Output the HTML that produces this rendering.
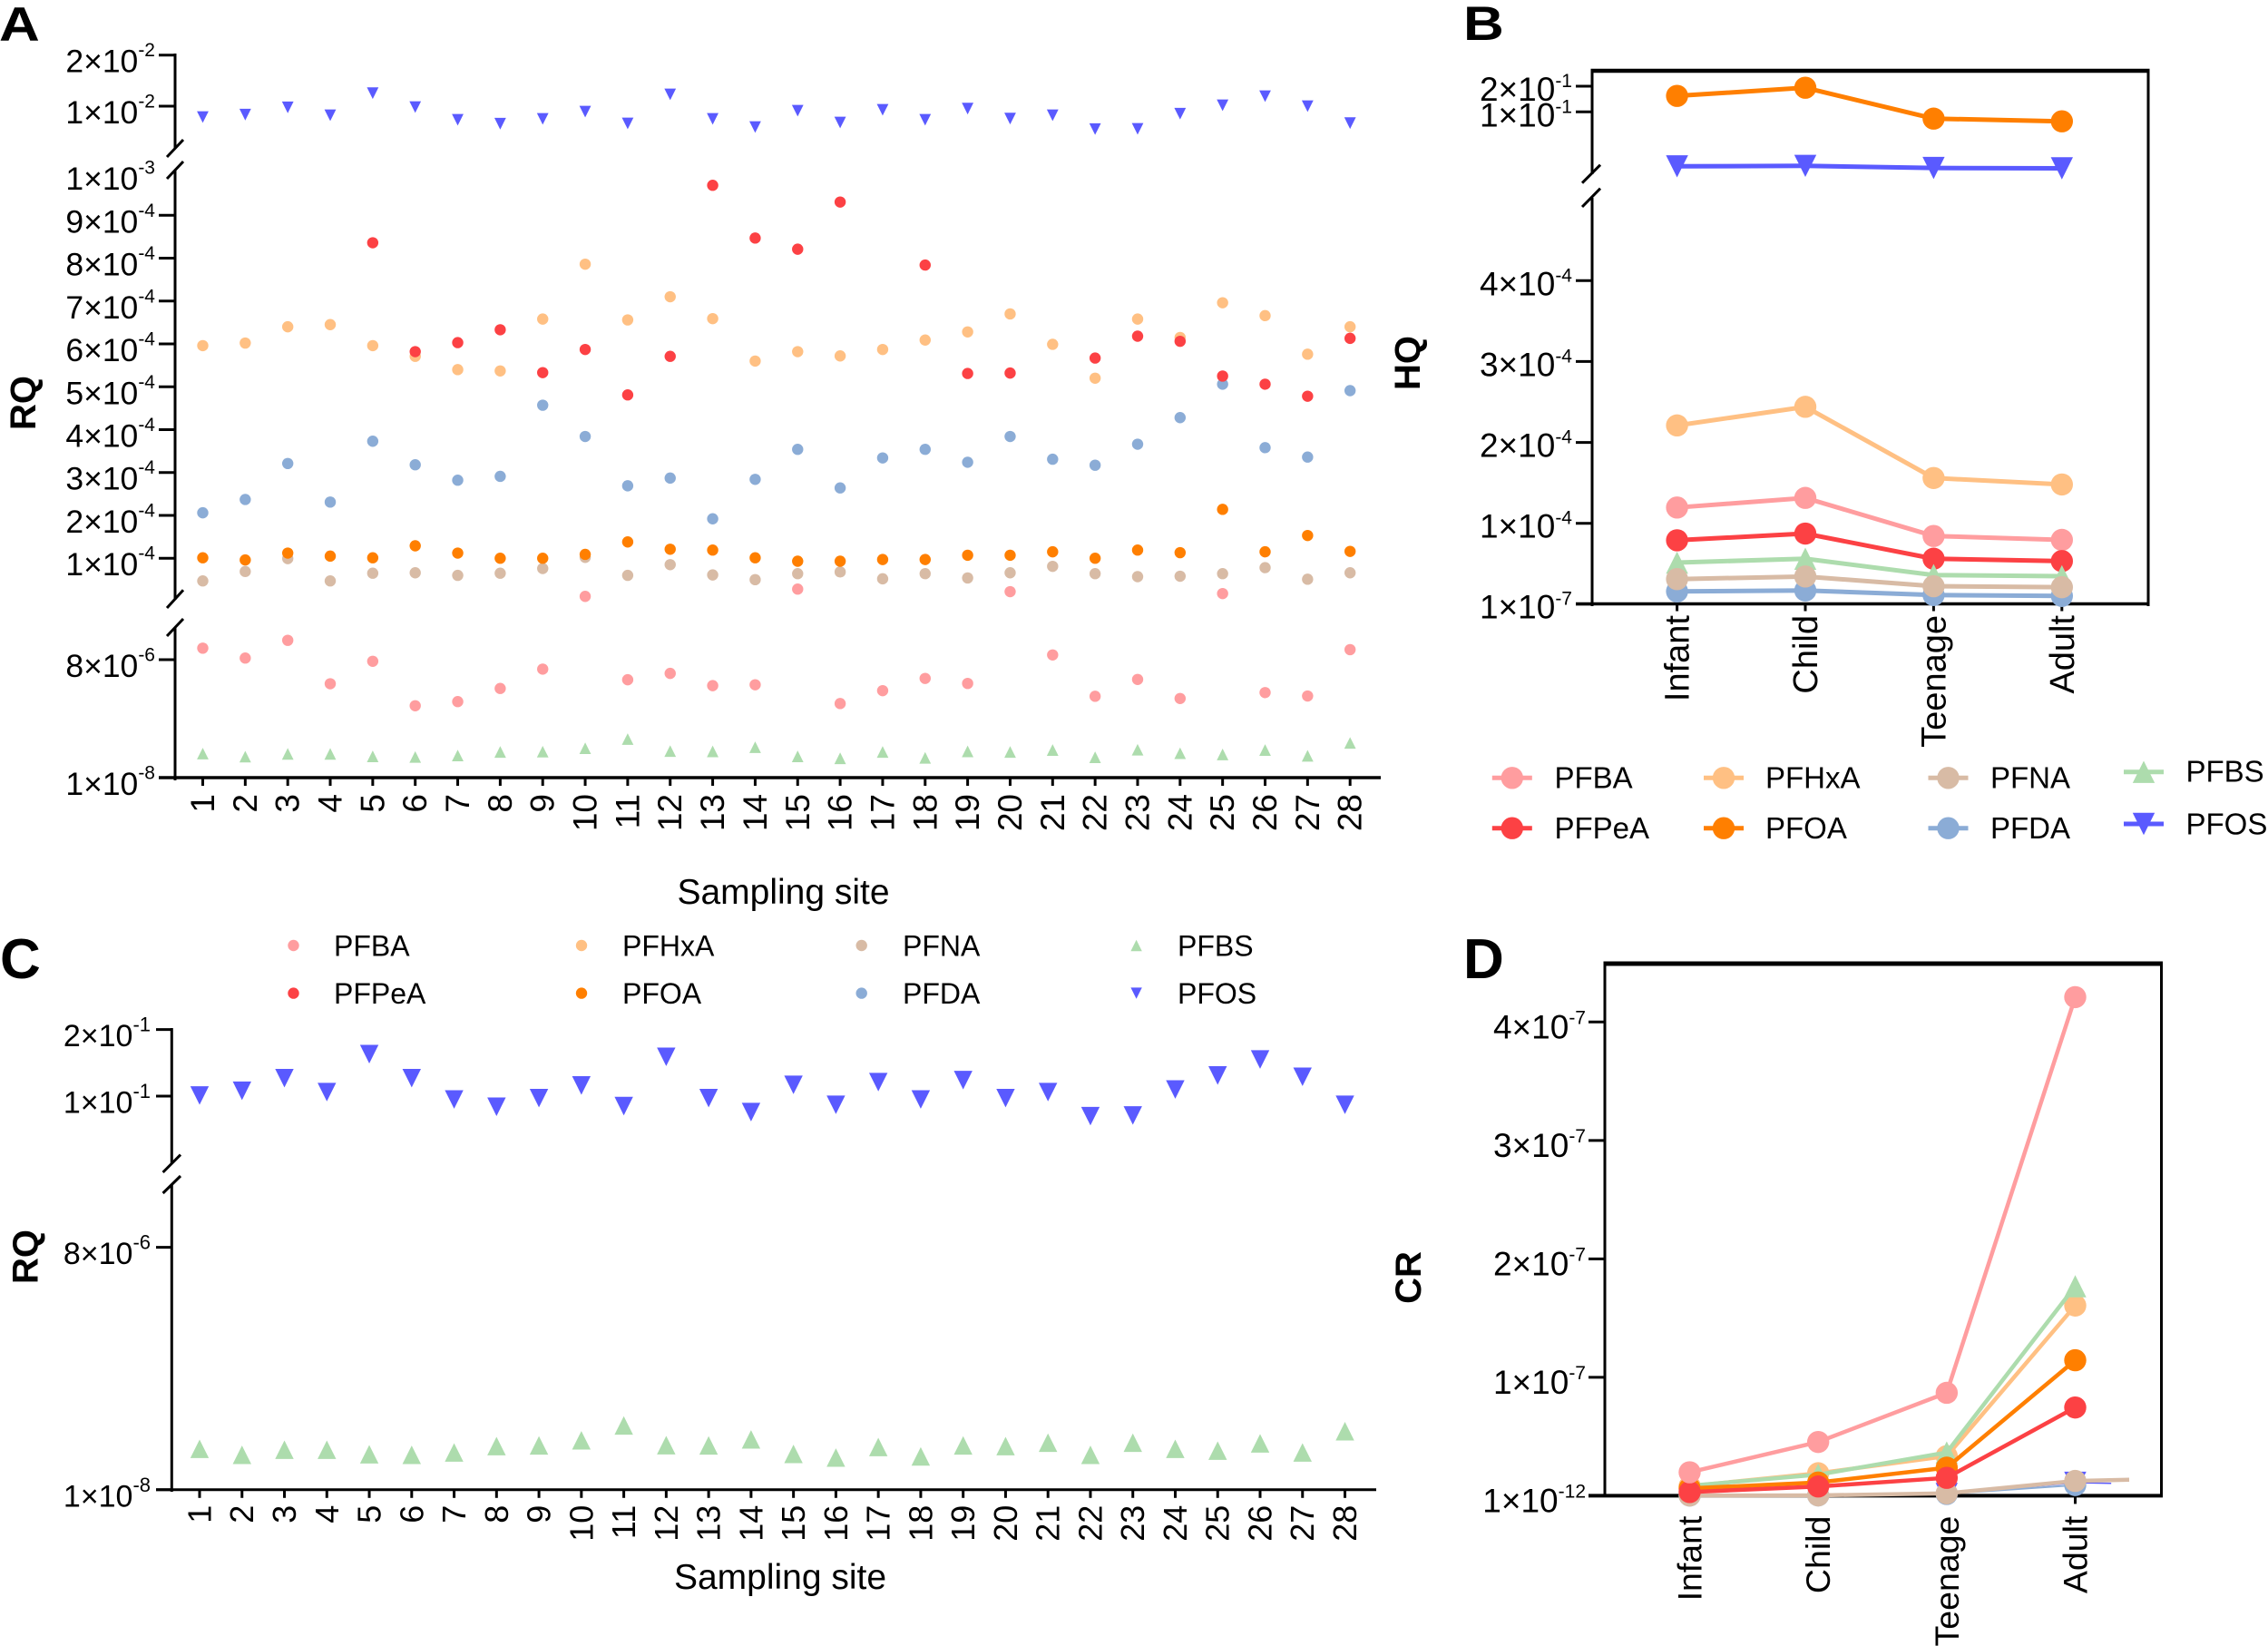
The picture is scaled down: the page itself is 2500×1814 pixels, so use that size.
<!DOCTYPE html>
<html lang="en">
<head>
<meta charset="utf-8">
<title>PFAS risk quotient charts</title>
<style>
html,body{margin:0;padding:0;background:#fff;}
svg{display:block;font-family:"Liberation Sans",Arial,sans-serif;}
</style>
</head>
<body>
<svg id="fig" xmlns="http://www.w3.org/2000/svg" width="2500" height="1814" viewBox="0 0 2500 1814">
  <rect x="0" y="0" width="2500" height="1814" fill="#ffffff"/>
  <g id="panelA"></g>
  <g id="panelB"></g>
  <g id="panelC"></g>
  <g id="panelD"></g>
</svg>
<script>
// ---------- shared categories ----------
const sites = [1,2,3,4,5,6,7,8,9,10,11,12,13,14,15,16,17,18,19,20,21,22,23,24,25,26,27,28];
const ageGroups = ["Infant","Child","Teenage","Adult"];

// ---------- panel A: RQ by sampling site (null = not visible) ----------
const rqPFOS_e2 = [0.787,0.835,0.977,0.822,1.254,0.982,0.734,0.657,0.751,0.893,0.663,1.231,0.751,0.591,0.911,0.680,0.929,0.734,0.952,0.757,0.822,0.551,0.556,0.853,1.018,1.195,1.0,0.668];
const rqPFBS_e6 = [1.64,1.43,1.62,1.62,1.45,1.41,1.51,1.75,1.77,2.0,2.62,1.81,1.79,2.07,1.45,1.32,1.75,1.35,1.79,1.75,1.88,1.39,1.90,1.66,1.58,1.88,1.49,2.36];
const rqPFDA_e4 = [2.06,2.37,3.21,2.31,3.73,3.18,2.82,2.91,4.57,3.84,2.69,2.87,1.92,2.84,3.54,2.64,3.34,3.54,3.24,3.84,3.31,3.17,3.66,4.28,5.06,3.58,3.36,4.91];
const rqPFNA_e4 = [0.47,0.69,0.99,0.47,0.65,0.66,0.60,0.65,0.76,1.02,0.60,0.85,0.61,0.50,0.64,0.68,0.52,0.64,0.54,0.66,0.81,0.64,0.57,0.58,0.64,0.78,0.51,0.66];
const rqPFBA_e6 = [8.78,8.11,9.31,6.37,7.89,4.88,5.16,6.05,7.36,11,6.64,7.07,6.24,6.30,28,5.03,5.90,6.73,6.39,22,8.32,5.52,6.66,5.37,17.5,5.77,5.54,8.68];
const rqPFHxA_e4 = [5.96,6.02,6.40,6.45,5.96,5.71,5.40,5.37,6.58,7.86,6.56,7.10,6.59,5.60,5.82,5.72,5.87,6.09,6.28,6.70,5.99,5.20,6.58,6.15,6.96,6.66,5.76,6.40];
const rqPFOA_e4 = [1.01,0.96,1.12,1.05,1.01,1.29,1.12,1.0,1.0,1.09,1.38,1.21,1.19,1.01,0.93,0.93,0.97,0.97,1.07,1.07,1.15,1.0,1.19,1.13,2.14,1.15,1.53,1.16];
const rqPFPeA_e4 = [null,null,null,null,8.36,5.82,6.03,6.33,5.33,5.87,4.81,5.71,9.70,8.47,8.21,9.31,null,7.84,5.31,5.32,null,5.67,6.18,6.06,5.25,5.06,4.78,6.13];
const aTickValues = [2e-2,1e-2,1e-3,9e-4,8e-4,7e-4,6e-4,5e-4,4e-4,3e-4,2e-4,1e-4,8e-6,1e-8];
const aTickLabels = ["2×10^-2","1×10^-2","1×10^-3","9×10^-4","8×10^-4","7×10^-4","6×10^-4","5×10^-4","4×10^-4","3×10^-4","2×10^-4","1×10^-4","8×10^-6","1×10^-8"];

// ---------- panel B: HQ by age group ----------
const hqPFOS = [0.0230,0.0233,0.0220,0.0218];
const hqPFOA = [0.154,0.192,0.0834,0.0775];
const hqPFHxA = [2.21e-4,2.44e-4,1.56e-4,1.48e-4];
const hqPFBA = [1.195e-4,1.314e-4,0.843e-4,0.795e-4];
const hqPFPeA = [0.79e-4,0.873e-4,0.562e-4,0.533e-4];
const hqPFDA = [0.158e-4,0.169e-4,0.113e-4,0.102e-4];
const hqPFBS = [0.514e-4,0.562e-4,0.36e-4,0.346e-4];
const hqPFNA = [0.31e-4,0.342e-4,0.222e-4,0.21e-4];
const bTickValues = [2e-1,1e-1,4e-4,3e-4,2e-4,1e-4,1e-7];
const bTickLabels = ["2×10^-1","1×10^-1","4×10^-4","3×10^-4","2×10^-4","1×10^-4","1×10^-7"];

// ---------- panel C: RQ by sampling site ----------
const rqcPFOS = [1.01,1.08,1.27,1.06,1.63,1.27,0.95,0.84,0.97,1.16,0.85,1.59,0.97,0.76,1.17,0.87,1.21,0.95,1.24,0.97,1.06,0.70,0.71,1.10,1.31,1.55,1.29,0.87];
const rqcPFBS = [1.36,1.16,1.33,1.33,1.18,1.16,1.24,1.45,1.47,1.64,2.13,1.48,1.47,1.67,1.19,1.07,1.42,1.11,1.47,1.45,1.56,1.16,1.56,1.36,1.30,1.54,1.24,1.94];
const cTickValues = [2e-1,1e-1,8e-6,1e-8];
const cTickLabels = ["2×10^-1","1×10^-1","8×10^-6","1×10^-8"];

// ---------- panel D: CR by age group (units of 1e-7) ----------
const crPFOS = [0.002,0.003,0.015,0.11];
const crPFDA = [0.002,0.003,0.015,0.09];
const crPFNA = [0.002,0.003,0.02,0.125];
const crPFHxA = [0.081,0.19,0.334,1.606];
const crPFBS = [0.085,0.178,0.365,1.769];
const crPFOA = [0.062,0.112,0.237,1.144];
const crPFPeA = [0.031,0.078,0.151,0.745];
const crPFBA = [0.198,0.454,0.869,4.21];
const crTailCategory = [3.28,3.42];
const crTailValue = [0.105,0.135];
const dTickValues = [4e-7,3e-7,2e-7,1e-7,1e-12];
const dTickLabels = ["4×10^-7","3×10^-7","2×10^-7","1×10^-7","1×10^-12"];

// ---------- styling ----------
const colors = {PFBA:"#FF9D9F",PFPeA:"#FC4144",PFHxA:"#FFC083",PFOA:"#FF7F00",PFNA:"#D8BBA5",PFDA:"#8BACD6",PFBS:"#ADDCAD",PFOS:"#5A5AFF"};
const shapes = {PFBS:"up",PFOS:"down"};
const NS = "http://www.w3.org/2000/svg";

function el(tag, attrs, parent){
  const n = document.createElementNS(NS, tag);
  for(const k in attrs){ n.setAttribute(k, attrs[k]); }
  parent.appendChild(n);
  return n;
}
function linearSeg(v1,p1,v2,p2,minV){
  return {minV:minV, f:function(v){return p1+(v-v1)*(p2-p1)/(v2-v1);}};
}
function logSeg(v1,p1,v2,p2,minV){
  return {minV:minV, f:function(v){return p1+(Math.log10(v)-Math.log10(v1))*(p2-p1)/(Math.log10(v2)-Math.log10(v1));}};
}
function brokenScale(segs){
  return function(v){
    for(const s of segs){ if(v>=s.minV){ return s.f(v); } }
    return segs[segs.length-1].f(v);
  };
}
function line(parent,x1,y1,x2,y2,w,name){
  const l = el("line",{x1:x1,y1:y1,x2:x2,y2:y2,stroke:"#000","stroke-width":w},parent);
  
  
  return l;
}
function marker(parent,key,cx,cy,r){
  const shape = shapes[key];
  let m;
  if(shape==="up"){
    m = el("polygon",{points:(cx-r)+","+(cy+r)+" "+(cx+r)+","+(cy+r)+" "+cx+","+(cy-r),fill:colors[key]},parent);
  }else if(shape==="down"){
    m = el("polygon",{points:(cx-r)+","+(cy-r)+" "+(cx+r)+","+(cy-r)+" "+cx+","+(cy+r),fill:colors[key]},parent);
  }else{
    m = el("circle",{cx:cx,cy:cy,r:r,fill:colors[key]},parent);
  }
  
  
  return m;
}
function yTicks(parent,vals,labels,y,o){
  vals.forEach(function(v,i){
    const py = y(v);
    if(!(o.noMark && o.noMark.indexOf(v)>=0)){
      line(parent,o.x0,py,o.x1,py,3,'y-axis-tick');
    }
    const parts = labels[i].split("^");
    const t = el("text",{x:o.right,y:py+o.base,"text-anchor":"end",fill:"#000"},parent);
    
    
    const a = el("tspan",{"font-size":o.fs},t);
    a.textContent = parts[0];
    const b = el("tspan",{"font-size":o.sfs,dy:o.supDy},t);
    b.textContent = parts[1];
  });
}
function xTickLabels(parent,names,x,o){
  names.forEach(function(nm,i){
    const px = x(i);
    line(parent,px,o.axisY,px,o.axisY+o.len,3,'x-axis-tick');
    const bx = px+o.off, by = o.top;
    const t = el("text",{x:bx,y:by,"text-anchor":"end","font-size":o.fs,fill:"#000",transform:"rotate(-90 "+bx+" "+by+")"},parent);
    
    
    t.textContent = nm;
  });
}
function rotated(parent,str,x,y,fs,name){
  const t = el("text",{x:x,y:y,"text-anchor":"middle","font-size":fs,"font-weight":"bold",fill:"#000",transform:"rotate(-90 "+x+" "+y+")"},parent);
  
  
  t.textContent = str;
}
function plainText(parent,str,x,y,fs,anchor,name){
  const t = el("text",{x:x,y:y,"text-anchor":anchor,"font-size":fs,fill:"#000"},parent);
  
  
  t.textContent = str;
}
function panelLetter(parent,str,x,y,sy){
  const t = el("text",{x:0,y:0,"font-size":62,"font-weight":"bold",fill:"#000",transform:"translate("+x+" "+y+") scale(1 "+sy+")"},parent);
  
  
  t.textContent = str;
}
function scatter(parent,key,arr,unit,x,y,r){
  arr.forEach(function(v,i){
    if(v===null){ return; }
    marker(parent,key,x(i),y(v*unit),r);
  });
}
function lineSeries(parent,key,arr,unit,x,y,r,w){
  const pts = arr.map(function(v,i){ return x(i)+","+y(v*unit); }).join(" ");
  const p = el("polyline",{points:pts,fill:"none",stroke:colors[key],"stroke-width":w,"stroke-linejoin":"round"},parent);
  
  
  arr.forEach(function(v,i){ marker(parent,key,x(i),y(v*unit),r); });
}
function legendEntry(parent,key,mx,my,tx,ty,fs,r,lineHalf){
  if(lineHalf){
    const l = el("line",{x1:mx-lineHalf,y1:my,x2:mx+lineHalf,y2:my,stroke:colors[key],"stroke-width":5},parent);
    
    
  }
  marker(parent,key,mx,my,r);
  plainText(parent,key,tx,ty,fs,"start",'legend-label');
}

// ---------- Panel A ----------
(function(){
  const g = document.getElementById("panelA");
  const x = function(i){ return 223.5+46.84*i; };
  const y = brokenScale([
    linearSeg(0.01,117,0.02,60.7,2e-3),
    linearSeg(1e-4,615.2,9e-4,237.3,1.05e-5),
    linearSeg(1e-8,857,8e-6,727,-1)
  ]);
  panelLetter(g,"A",-1,45,0.85);
  line(g,193,59,193,164,3,'y-axis-upper');
  line(g,193,187,193,661,3,'y-axis-middle');
  line(g,193,691,193,860,3,'y-axis-lower');
  line(g,184,173,202,154,3,'axis-break-mark');
  line(g,184,197,202,178,3,'axis-break-mark');
  line(g,184,670,202,650.3,3,'axis-break-mark');
  line(g,184,701,202,682,3,'axis-break-mark');
  line(g,175,857,1522,857,3.5,'x-axis');
  yTicks(g,aTickValues,aTickLabels,y,{x0:175,x1:193,right:171,base:19,fs:35.5,sfs:21,supDy:-17.5,noMark:[1e-3]});
  xTickLabels(g,sites,x,{axisY:857,len:9,off:12.5,top:875,fs:37});
  rotated(g,"RQ",39,444,40,'y-axis-title');
  plainText(g,"Sampling site",863.5,996,39,"middle",'x-axis-title');
  scatter(g,"PFOS",rqPFOS_e2,1e-2,x,y,6.4);
  scatter(g,"PFBS",rqPFBS_e6,1e-6,x,y,6.4);
  scatter(g,"PFDA",rqPFDA_e4,1e-4,x,y,6.2);
  scatter(g,"PFNA",rqPFNA_e4,1e-4,x,y,6.2);
  scatter(g,"PFBA",rqPFBA_e6,1e-6,x,y,6.2);
  scatter(g,"PFHxA",rqPFHxA_e4,1e-4,x,y,6.2);
  scatter(g,"PFOA",rqPFOA_e4,1e-4,x,y,6.2);
  scatter(g,"PFPeA",rqPFPeA_e4,1e-4,x,y,6.2);
})();

// ---------- Panel B ----------
(function(){
  const g = document.getElementById("panelB");
  const x = function(i){ return 1848.6+141.4*i; };
  const y = brokenScale([
    logSeg(0.1,123.3,0.2,95,1e-3),
    linearSeg(1e-4,576.7,4e-4,309.3,-1)
  ]);
  panelLetter(g,"B",1613,44,0.85);
  line(g,1755,78,1755,192,3,'y-axis-upper');
  line(g,1755,218,1755,668,3,'y-axis-lower');
  line(g,2368,78,2368,668,3,'right-frame-line');
  line(g,1753.5,78,2369.5,78,4.5,'top-frame-line');
  line(g,1744,201.7,1764,181.7,3,'axis-break-mark');
  line(g,1744,228,1764,207.7,3,'axis-break-mark');
  line(g,1737,665.5,2369.5,665.5,3.5,'x-axis');
  yTicks(g,bTickValues,bTickLabels,y,{x0:1737,x1:1755,right:1733,base:16,fs:37,sfs:21,supDy:-15});
  xTickLabels(g,ageGroups,x,{axisY:665.5,len:8,off:13,top:678,fs:38});
  rotated(g,"HQ",1565,400,40,'y-axis-title');
  lineSeries(g,"PFOS",hqPFOS,1,x,y,12.2,5);
  lineSeries(g,"PFOA",hqPFOA,1,x,y,12.2,5);
  lineSeries(g,"PFHxA",hqPFHxA,1,x,y,12.2,5);
  lineSeries(g,"PFBA",hqPFBA,1,x,y,12.2,5);
  lineSeries(g,"PFPeA",hqPFPeA,1,x,y,12.2,5);
  lineSeries(g,"PFDA",hqPFDA,1,x,y,12.2,5);
  lineSeries(g,"PFBS",hqPFBS,1,x,y,12.2,5);
  lineSeries(g,"PFNA",hqPFNA,1,x,y,12.2,5);
  legendEntry(g,"PFBA",1666.8,857.3,1713.5,868.3,33,12.2,22);
  legendEntry(g,"PFPeA",1666.8,912.7,1713.5,924,33,12.2,22);
  legendEntry(g,"PFHxA",1900,857.3,1946,868.3,33,12.2,22);
  legendEntry(g,"PFOA",1900,912.7,1946,924,33,12.2,22);
  legendEntry(g,"PFNA",2147.5,857.3,2194,868.3,33,12.2,22);
  legendEntry(g,"PFDA",2147.5,912.7,2194,924,33,12.2,22);
  legendEntry(g,"PFBS",2363,850.7,2409.5,861.7,33,12.2,22);
  legendEntry(g,"PFOS",2363,908,2409.5,919.3,33,12.2,22);
})();

// ---------- Panel C ----------
(function(){
  const g = document.getElementById("panelC");
  const x = function(i){ return 220+46.76*i; };
  const y = brokenScale([
    linearSeg(0.1,1208,0.2,1134.6,1e-3),
    linearSeg(1e-8,1641.8,8e-6,1374.6,-1)
  ]);
  panelLetter(g,"C",0,1078,1);
  line(g,189.3,1133,189.3,1282,3,'y-axis-upper');
  line(g,189.3,1305.5,189.3,1644,3,'y-axis-lower');
  line(g,179.6,1292,199,1272.6,3,'axis-break-mark');
  line(g,179.6,1315,199,1296,3,'axis-break-mark');
  line(g,172,1641.8,1517,1641.8,3,'x-axis');
  yTicks(g,cTickValues,cTickLabels,y,{x0:172,x1:189.3,right:166,base:18.5,fs:34,sfs:22,supDy:-16.5});
  xTickLabels(g,sites,x,{axisY:1641.8,len:9,off:12.5,top:1658.7,fs:36});
  rotated(g,"RQ",41.5,1385,40,'y-axis-title');
  plainText(g,"Sampling site",860,1751,39,"middle",'x-axis-title');
  scatter(g,"PFOS",rqcPFOS,1e-1,x,y,10.2);
  scatter(g,"PFBS",rqcPFBS,1e-6,x,y,10.2);
  legendEntry(g,"PFBA",323.5,1042,368,1053.6,32,6.2,0);
  legendEntry(g,"PFPeA",323.5,1094.6,368,1106,32,6.2,0);
  legendEntry(g,"PFHxA",641,1042,686,1053.6,32,6.2,0);
  legendEntry(g,"PFOA",641,1094.6,686,1106,32,6.2,0);
  legendEntry(g,"PFNA",949.7,1042,995,1053.6,32,6.2,0);
  legendEntry(g,"PFDA",949.7,1094.6,995,1106,32,6.2,0);
  legendEntry(g,"PFBS",1252.6,1042,1298,1053.6,32,6.2,0);
  legendEntry(g,"PFOS",1252.6,1094.6,1298,1106,32,6.2,0);
})();

// ---------- Panel D ----------
(function(){
  const g = document.getElementById("panelD");
  const x = function(i){ return 1862.5+141.67*i; };
  const y = brokenScale([linearSeg(1e-12,1648.4,4e-7,1126.3,-1)]);
  panelLetter(g,"D",1613,1078,1);
  const frameRect = [
    [1769,1060,1769,1650,3,'left-frame-line'],
    [2382.5,1060,2382.5,1650,3,'right-frame-line'],
    [1767.5,1062,2384,1062,5,'top-frame-line']
  ];
  frameRect.forEach(function(f){ line(g,f[0],f[1],f[2],f[3],f[4],f[5]); });
  yTicks(g,dTickValues,dTickLabels,y,{x0:1751,x1:1769,right:1748,base:18,fs:37,sfs:21,supDy:-16});
  xTickLabels(g,ageGroups,x,{axisY:1648.4,len:9,off:13,top:1670.6,fs:37.5});
  rotated(g,"CR",1566,1408,40,'y-axis-title');
  line(g,1751,1648.4,2384,1648.4,4,'x-axis');
  const tailPFOS = el("line",{x1:x(3),y1:y(crPFOS[3]*1e-7),x2:x(crTailCategory[0]),y2:y(crTailValue[0]*1e-7),stroke:colors.PFOS,"stroke-width":1.5},g);
  
  
  lineSeries(g,"PFOS",crPFOS,1e-7,x,y,12.2,1.5);
  lineSeries(g,"PFDA",crPFDA,1e-7,x,y,12.2,2);
  const tailPFNA = el("line",{x1:x(3),y1:y(crPFNA[3]*1e-7),x2:x(crTailCategory[1]),y2:y(crTailValue[1]*1e-7),stroke:colors.PFNA,"stroke-width":4.5},g);
  
  
  lineSeries(g,"PFNA",crPFNA,1e-7,x,y,12.2,4.5);
  lineSeries(g,"PFHxA",crPFHxA,1e-7,x,y,12.2,4.5);
  lineSeries(g,"PFBS",crPFBS,1e-7,x,y,12.2,4.5);
  lineSeries(g,"PFOA",crPFOA,1e-7,x,y,12.2,4.5);
  lineSeries(g,"PFPeA",crPFPeA,1e-7,x,y,12.2,4.5);
  lineSeries(g,"PFBA",crPFBA,1e-7,x,y,12.2,4.5);
})();
</script>
</body>
</html>
